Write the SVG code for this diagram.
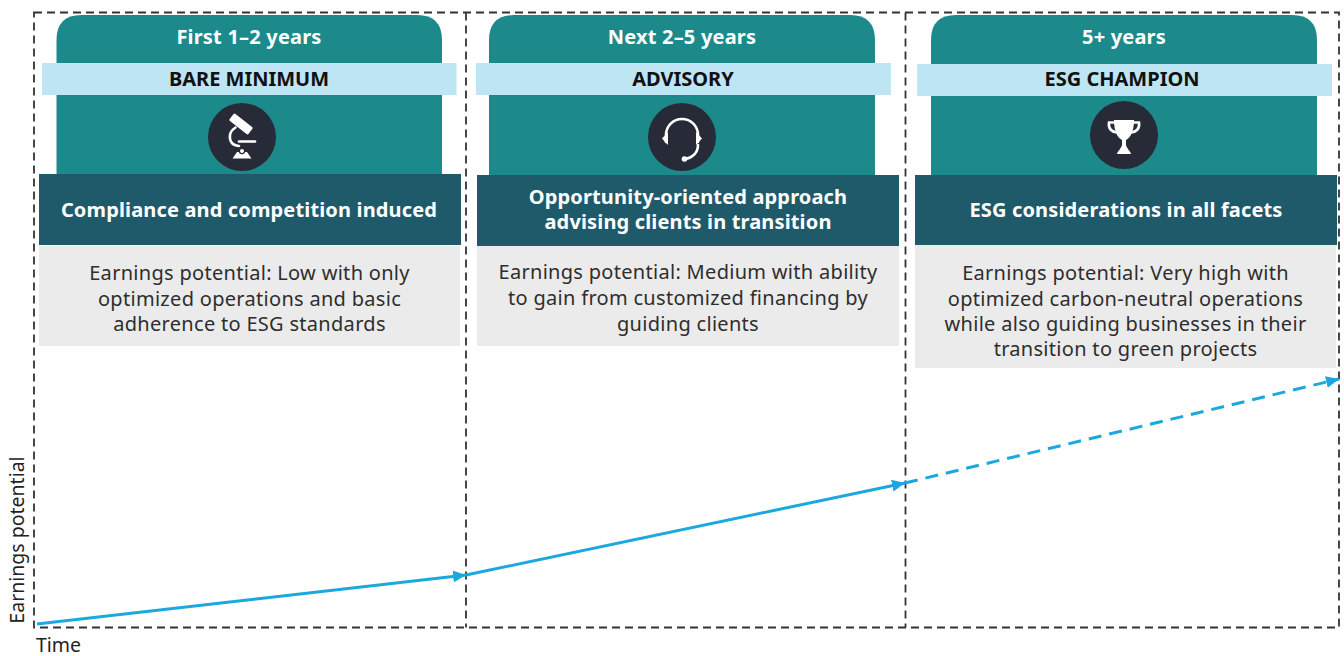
<svg xmlns="http://www.w3.org/2000/svg" width="1344" height="656" viewBox="0 0 1344 656">
<defs>
<style>
.teal{fill:#1c898b}
.band{fill:#bde5f3}
.dark{fill:#1f5a6a}
.gray{fill:#ebebeb}
.icon{fill:#272a37}
.w{fill:#ffffff}
.ws{fill:none;stroke:#ffffff;stroke-width:2.6;stroke-linecap:round}
.t-title{font-family:"Noto Sans","Open Sans",sans-serif;font-weight:bold;font-size:20px;letter-spacing:0.2px;fill:#ffffff;text-anchor:middle}
.t-band{font-family:"Noto Sans","Open Sans",sans-serif;font-weight:bold;font-size:20px;fill:#111111;text-anchor:middle}
.t-dark{font-family:"Noto Sans","Open Sans",sans-serif;font-weight:bold;font-size:20px;letter-spacing:0.15px;fill:#ffffff;text-anchor:middle}
.t-gray{font-family:"Noto Sans","Open Sans",sans-serif;font-size:20px;letter-spacing:0.3px;fill:#2e2e2e;text-anchor:middle}
.t-axis{font-family:"Noto Sans","Open Sans",sans-serif;font-size:19.5px;fill:#222222}
.frame{fill:none;stroke:#333333;stroke-width:1.8;stroke-dasharray:8 5}
.trend{fill:none;stroke:#1aa8de;stroke-width:3}
</style>
<marker id="arr" markerUnits="userSpaceOnUse" markerWidth="14" markerHeight="12" refX="13" refY="6" orient="auto">
<path d="M0,0 L13,6 L0,12 Z" fill="#1aa8de"/>
</marker>
</defs>

<g id="frame">
<rect class="frame" x="34" y="12.5" width="1305" height="615"/>
<line class="frame" x1="466" y1="12.5" x2="466" y2="627.5"/>
<line class="frame" x1="905.5" y1="12.5" x2="905.5" y2="627.5"/>
</g>

<g id="stage-bare-minimum">
<path class="teal" d="M56.5,175 V40 Q56.5,15 81.5,15 H417 Q442,15 442,40 V175 Z"/>
<text class="t-title" x="249" y="44">First 1–2 years</text>
<rect class="band" x="42" y="63" width="414.5" height="32"/>
<text class="t-band" x="249" y="86">BARE MINIMUM</text>
<circle class="icon" cx="242" cy="137" r="34"/>
<rect class="w" x="-4.5" y="-12" width="9" height="24" rx="1.5" transform="translate(241,124) rotate(-52)"/>
<path class="ws" d="M235.5,127.5 C227,133 228,145 239,146"/>
<line class="ws" x1="239" y1="141.5" x2="255" y2="141.5"/>
<path class="w" d="M232.5,158.5 L237,152 L247,152 L251.5,158.5 Z"/>
<circle class="icon" cx="242" cy="151" r="3.2"/>
<circle class="w" cx="242" cy="151" r="2"/>
<rect class="dark" x="39" y="174" width="422" height="71"/>
<text class="t-dark" x="249" y="217">Compliance and competition induced</text>
<rect class="gray" x="39" y="246" width="421" height="100"/>
<text class="t-gray" x="249.5" y="280">Earnings potential: Low with only</text>
<text class="t-gray" x="249.5" y="305.5">optimized operations and basic</text>
<text class="t-gray" x="249.5" y="331">adherence to ESG standards</text>
</g>

<g id="stage-advisory">
<path class="teal" d="M489,175 V40 Q489,15 514,15 H850 Q875,15 875,40 V175 Z"/>
<text class="t-title" x="682" y="44">Next 2–5 years</text>
<rect class="band" x="476" y="63" width="415" height="32"/>
<text class="t-band" x="683" y="86">ADVISORY</text>
<circle class="icon" cx="682" cy="137" r="34"/>
<path class="ws" d="M666,142 V135 A16,16 0 0 1 698,135 V142"/>
<path class="w" d="M668,132 L662,138.5 L668,145 Z"/>
<path class="w" d="M696,132 L702,138.5 L696,145 Z"/>
<path class="ws" d="M698,145 C698,153 692,158 685,159" stroke-width="2"/>
<circle class="w" cx="684.5" cy="159" r="2.8"/>
<rect class="dark" x="477" y="175" width="422" height="71"/>
<text class="t-dark" x="688" y="204">Opportunity-oriented approach</text>
<text class="t-dark" x="688" y="229">advising clients in transition</text>
<rect class="gray" x="477" y="246" width="422" height="100"/>
<text class="t-gray" x="688" y="279">Earnings potential: Medium with ability</text>
<text class="t-gray" x="688" y="305">to gain from customized financing by</text>
<text class="t-gray" x="688" y="330.5">guiding clients</text>
</g>

<g id="stage-esg-champion">
<path class="teal" d="M931,175 V40 Q931,15 956,15 H1292 Q1317,15 1317,40 V175 Z"/>
<text class="t-title" x="1124" y="44">5+ years</text>
<rect class="band" x="917" y="64" width="415" height="32"/>
<text class="t-band" x="1122" y="86">ESG CHAMPION</text>
<circle class="icon" cx="1124" cy="135" r="34"/>
<path class="w" d="M1114,120 H1134 C1134,132 1130,138 1126,140 V145 C1127,149 1131,152 1131,154 H1117 C1117,152 1121,149 1122,145 V140 C1118,138 1114,132 1114,120 Z"/>
<path class="ws" d="M1115,122.5 H1109 C1108,129 1112,132 1117,132.5" stroke-width="2.2"/>
<path class="ws" d="M1133,122.5 H1139 C1140,129 1136,132 1131,132.5" stroke-width="2.2"/>
<rect class="dark" x="915" y="175" width="422" height="70"/>
<text class="t-dark" x="1126" y="217">ESG considerations in all facets</text>
<rect class="gray" x="915" y="245" width="421" height="123"/>
<text class="t-gray" x="1125.5" y="280">Earnings potential: Very high with</text>
<text class="t-gray" x="1125.5" y="305.5">optimized carbon-neutral operations</text>
<text class="t-gray" x="1125.5" y="331">while also guiding businesses in their</text>
<text class="t-gray" x="1125.5" y="356">transition to green projects</text>
</g>

<g id="connectors">
<line class="trend" x1="37" y1="624" x2="466" y2="575" marker-end="url(#arr)"/>
<line class="trend" x1="466" y1="575" x2="905" y2="483" marker-end="url(#arr)"/>
<line class="trend" x1="905" y1="483" x2="1339" y2="379" stroke-dasharray="13 8" marker-end="url(#arr)"/>
</g>

<g id="axes">
<text class="t-axis" transform="translate(24,540) rotate(-90)" text-anchor="middle">Earnings potential</text>
<text class="t-axis" x="36" y="652">Time</text>
</g>
</svg>
